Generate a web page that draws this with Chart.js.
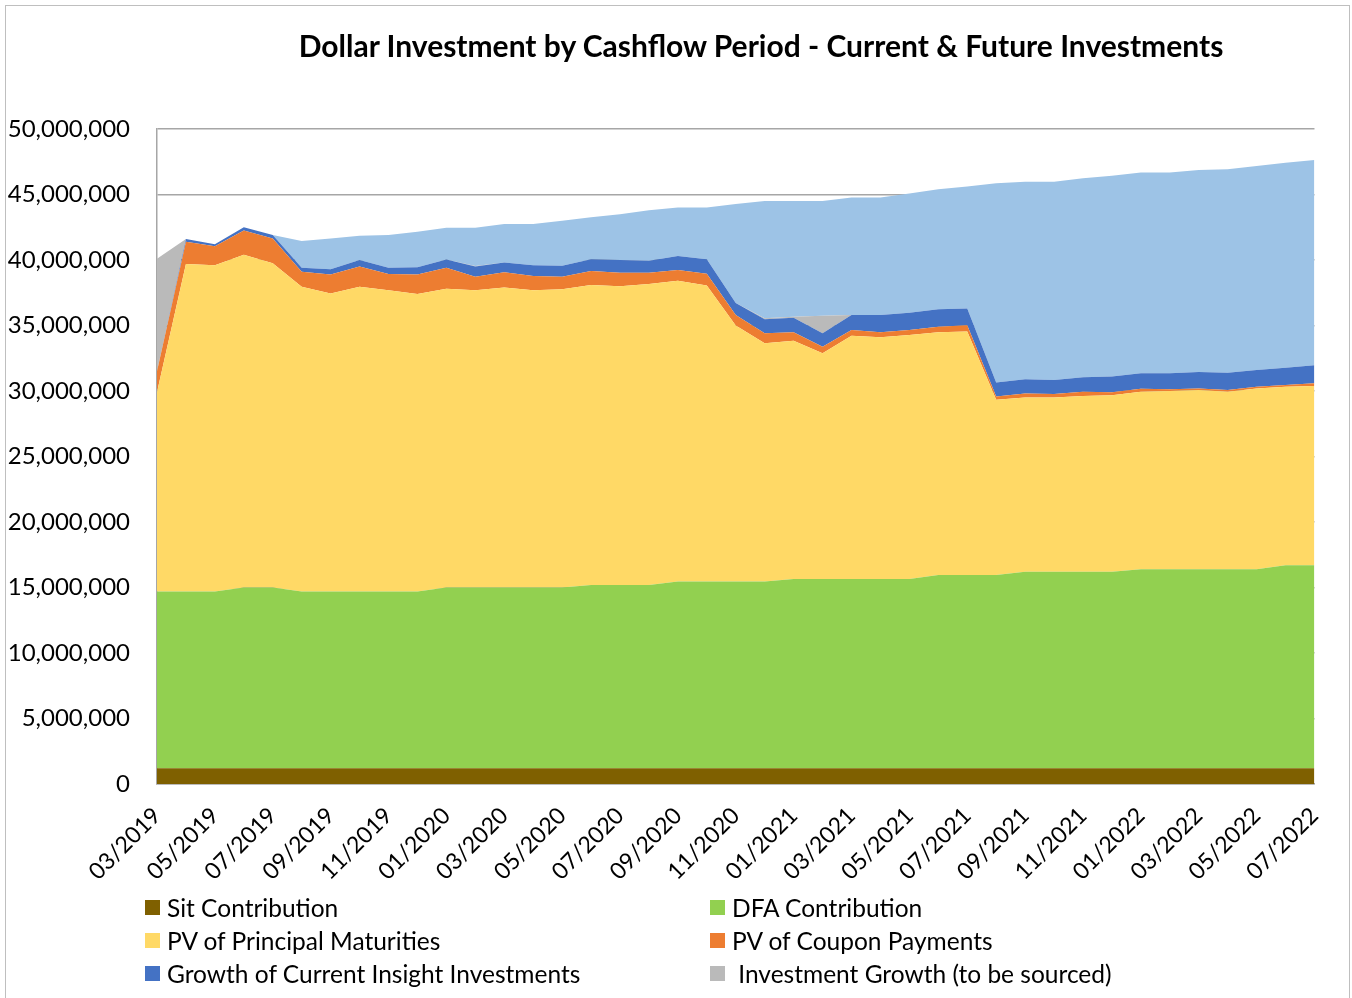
<!DOCTYPE html>
<html>
<head>
<meta charset="utf-8">
<script src="https://cdn.jsdelivr.net/npm/chart.js@4.4.1/dist/chart.umd.min.js"></script>
<style>
  html, body { margin: 0; padding: 0; background: #fff; }
  #wrap { position: relative; width: 1352px; height: 998px; overflow: hidden; font-family: Lato, "Noto Sans", sans-serif; }
  #frame { position: absolute; left: 5px; top: 5px; width: 1343px; height: 1010px; border: 1px solid #bfbfbf; }
  #title { position: absolute; top: 27px; left: 761px; transform: translateX(-50%); white-space: nowrap;
           font-weight: bold; font-size: 30px; color: #000; }
  #chartBox { position: absolute; left: 0; top: 0; width: 1352px; height: 998px; }
  .leg { position: absolute; display: flex; align-items: center; font-size: 24.5px; color: #000; white-space: nowrap; }
  .leg span.box { display: inline-block; width: 15px; height: 15px; margin-right: 7px; }
</style>
</head>
<body>
<div id="wrap">
  <div id="frame"></div>
  <div id="chartBox"><canvas id="areaChart"></canvas></div>
  <div id="title">Dollar Investment by Cashflow Period - Current &amp; Future Investments</div>
  <div id="legend"></div>
</div>
<script>
// monthly periods 03/2019 .. 07/2022
const periods = [
  '03/2019','04/2019','05/2019','06/2019','07/2019','08/2019','09/2019','10/2019','11/2019','12/2019',
  '01/2020','02/2020','03/2020','04/2020','05/2020','06/2020','07/2020','08/2020','09/2020','10/2020','11/2020','12/2020',
  '01/2021','02/2021','03/2021','04/2021','05/2021','06/2021','07/2021','08/2021','09/2021','10/2021','11/2021','12/2021',
  '01/2022','02/2022','03/2022','04/2022','05/2022','06/2022','07/2022'
];

// values in millions of dollars
const sitContribution = [
  1.2,1.2,1.2,1.2,1.2,1.2,1.2,1.2,1.2,1.2,
  1.2,1.2,1.2,1.2,1.2,1.2,1.2,1.2,1.2,1.2,1.2,1.2,
  1.2,1.2,1.2,1.2,1.2,1.2,1.2,1.2,1.2,1.2,1.2,1.2,
  1.2,1.2,1.2,1.2,1.2,1.2,1.2
];
const dfaContribution = [
  13.5,13.5,13.5,13.8,13.8,13.5,13.5,13.5,13.5,13.5,
  13.8,13.8,13.8,13.8,13.8,14.0,14.0,14.0,14.25,14.25,14.25,14.25,
  14.45,14.45,14.45,14.45,14.45,14.75,14.75,14.75,15.0,15.0,15.0,15.0,
  15.2,15.2,15.2,15.2,15.2,15.5,15.5
];
const pvPrincipal = [
  15.2,25.0,24.9,25.4,24.75,23.26,22.75,23.26,23.0,22.7,
  22.8,22.7,22.9,22.7,22.76,22.89,22.8,22.97,22.97,22.6,19.55,18.19,
  18.19,17.23,18.57,18.45,18.62,18.53,18.6,13.38,13.3,13.3,13.42,13.47,
  13.55,13.6,13.68,13.55,13.8,13.63,13.68
];
const pvCoupon = [
  1.6,1.7,1.45,1.85,1.9,1.14,1.45,1.54,1.23,1.5,
  1.6,1.03,1.16,1.08,0.97,1.07,1.03,0.86,0.82,0.9,0.8,0.76,
  0.64,0.5,0.44,0.38,0.39,0.42,0.47,0.25,0.3,0.27,0.33,0.23,
  0.23,0.13,0.12,0.13,0.13,0.13,0.21
];
const insightGrowth = [
  0,0.2,0.15,0.25,0.25,0.3,0.4,0.5,0.47,0.54,
  0.63,0.77,0.74,0.82,0.84,0.89,0.97,0.92,1.06,1.1,0.92,1.07,
  1.12,1.02,1.14,1.32,1.32,1.34,1.28,1.07,1.1,1.07,1.1,1.2,
  1.17,1.22,1.25,1.32,1.27,1.32,1.37
];
const growthToBeSourced = [
  8.6,0,0,0,0,0,0,0,0,0,
  0,0.05,0,0,0,0,0,0,0,0,0,0.08,
  0.07,1.35,0,0,0,0,0,0,0,0,0,0,
  0,0,0,0,0,0,0
];
const futureInvestments = [
  0,0,0,0,0,2.05,2.35,1.86,2.5,2.72,
  2.44,2.92,2.95,3.15,3.43,3.21,3.5,3.85,3.7,3.95,7.55,8.95,
  8.83,8.75,8.98,8.98,9.1,9.16,9.32,15.2,15.08,15.14,15.19,15.34,
  15.32,15.32,15.42,15.52,15.57,15.65,15.67
];
const yTicks = [0, 5e6, 10e6, 15e6, 20e6, 25e6, 30e6, 35e6, 40e6, 45e6, 50e6];

const series = [
  { label: 'Sit Contribution', values: sitContribution, color: '#7f6000', legendX: 145, legendRow: 0 },
  { label: 'DFA Contribution', values: dfaContribution, color: '#92d050', legendX: 710, legendRow: 0 },
  { label: 'PV of Principal Maturities', values: pvPrincipal, color: '#ffd966', legendX: 145, legendRow: 1 },
  { label: 'PV of Coupon Payments', values: pvCoupon, color: '#ed7d31', legendX: 710, legendRow: 1 },
  { label: 'Growth of Current Insight Investments', values: insightGrowth, color: '#4472c4', legendX: 145, legendRow: 2 },
  { label: ' Investment Growth (to be sourced)', values: growthToBeSourced, color: '#bababa', legendX: 710, legendRow: 2 },
  { label: 'Future Investments', values: futureInvestments, color: '#9dc3e6', legendX: null, legendRow: null }
];

const datasets = series.map((s, i) => ({
  label: s.label,
  data: s.values.map(v => v * 1e6),
  backgroundColor: s.color,
  borderColor: s.color,
  borderWidth: 0,
  pointRadius: 0,
  tension: 0,
  fill: i === 0 ? 'origin' : '-1'
}));

const ctx = document.getElementById('areaChart').getContext('2d');
new Chart(ctx, {
  type: 'line',
  data: { labels: periods, datasets: datasets },
  options: {
    responsive: true,
    maintainAspectRatio: false,
    animation: false,
    layout: { padding: { left: 0, top: 129, right: 37, bottom: 0 } },
    plugins: {
      legend: { display: false },
      title: { display: false },
      tooltip: { enabled: false }
    },
    elements: { line: { borderWidth: 0 } },
    scales: {
      x: {
        offset: false,
        grid: { display: false, drawTicks: false },
        border: { display: true, color: '#a6a6a6', width: 1.5 },
        ticks: {
          autoSkip: false,
          minRotation: 45,
          maxRotation: 45,
          padding: 18,
          color: '#000',
          font: { family: 'Lato', size: 23 },
          callback: function (val, idx) { return idx % 2 === 0 ? periods[idx] : ''; }
        },
        afterFit: s => { s.height = 998 - 784; }
      },
      y: {
        stacked: true,
        min: 0,
        max: 50e6,
        afterBuildTicks: s => { s.ticks = yTicks.map(v => ({ value: v })); },
        grid: { color: '#a6a6a6', lineWidth: 1.5, drawTicks: false },
        border: { display: true, color: '#a6a6a6', width: 1.5 },
        ticks: {
          padding: 27,
          color: '#000',
          font: { family: 'Lato', size: 24 },
          callback: v => v.toLocaleString('en-US')
        },
        afterFit: s => { s.width = 157; }
      }
    }
  }
});

// legend in two columns, as in the source sheet
const legendEl = document.getElementById('legend');
series.forEach(s => {
  if (s.legendX === null) return;
  const item = document.createElement('div');
  item.className = 'leg';
  item.style.left = s.legendX + 'px';
  item.style.top = (893 + s.legendRow * 33) + 'px';
  item.innerHTML = '<span class="box" style="background:' + s.color + '"></span>' + s.label.replace(/^ /, '&nbsp;');
  legendEl.appendChild(item);
});
</script>
</body>
</html>
